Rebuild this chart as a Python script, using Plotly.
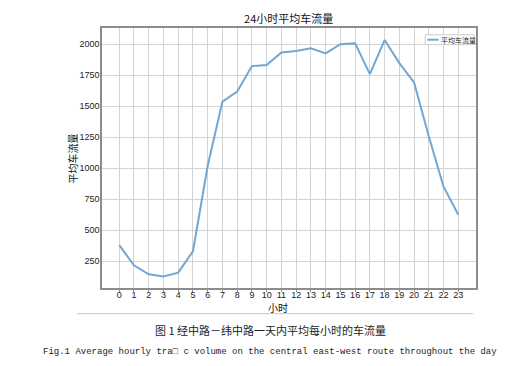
import plotly.graph_objects as go

hours = list(range(24))
hour_labels = [str(h) for h in hours]
avg_flow = [380, 218, 145, 127, 159, 331, 1020, 1537, 1618, 1823, 1831, 1933,
            1944, 1966, 1925, 2000, 2006, 1758, 2033, 1847, 1691, 1255, 851, 625]
y_ticks = [250, 500, 750, 1000, 1250, 1500, 1750, 2000]

title_text = "24小时平均车流量"
series_name = "平均车流量"
x_title = "小时"
y_title = "平均车流量"
caption_cn = "图 1 经中路－纬中路一天内平均每小时的车流量"
caption_en = "Fig.1 Average hourly tra\u25a1 c volume on the central east-west route throughout the day"

LINE_COLOR = "#72a7d3"
CJK = "Noto Sans CJK SC"
TICKFONT = dict(family="Liberation Sans, Arial", size=9, color="#222")

fig = go.Figure()
fig.add_trace(go.Scatter(x=hours, y=avg_flow, mode="lines", name=series_name,
                         line=dict(color=LINE_COLOR, width=2), showlegend=False))

fig.update_layout(
    width=528, height=366,
    margin=dict(l=102, r=52, t=28, b=78),
    paper_bgcolor="white", plot_bgcolor="white",
    title=dict(text=title_text, x=(101.7 + 475.7) / 2 / 528, xanchor="center",
               y=1 - 19 / 366, yanchor="middle",
               font=dict(family=CJK, size=11, color="#111")),
)
fig.update_xaxes(range=[-1.17, 24.2], tickmode="array", tickvals=hours, ticktext=hour_labels,
                 showgrid=True, gridcolor="#d4d4d4", gridwidth=1,
                 showline=True, linecolor="#8c8c8c", linewidth=1.5, mirror=True,
                 ticks="outside", ticklen=2, tickcolor="#8c8c8c",
                 ticklabelstandoff=-5,
                 tickfont=TICKFONT, zeroline=False)
fig.update_yaxes(range=[35, 2130], tickmode="array", tickvals=y_ticks,
                 showgrid=True, gridcolor="#d4d4d4", gridwidth=1,
                 showline=True, linecolor="#8c8c8c", linewidth=1.5, mirror=True,
                 ticks="", ticklabelstandoff=-1, tickfont=TICKFONT, zeroline=False)

annots = [
    dict(text=x_title, x=0.471, y=-0.075, xref="paper", yref="paper",
         showarrow=False, xanchor="center", yanchor="middle",
         font=dict(family=CJK, size=10, color="#111")),
    dict(text=y_title, x=-0.079, y=0.5, xref="paper", yref="paper", textangle=-90,
         showarrow=False, xanchor="center", yanchor="middle",
         font=dict(family=CJK, size=10, color="#111")),
    dict(text=caption_cn, x=0.45, y=-0.163, xref="paper", yref="paper",
         showarrow=False, xanchor="center", yanchor="middle",
         font=dict(family=CJK, size=11, color="#222")),
    dict(text=caption_en, x=0.45, y=-0.248, xref="paper", yref="paper",
         showarrow=False, xanchor="center", yanchor="middle",
         font=dict(family="Liberation Mono, DejaVu Sans Mono", size=9, color="#222")),
    dict(text=series_name, x=0.9, y=0.955, xref="paper", yref="paper",
         showarrow=False, xanchor="left", yanchor="middle",
         font=dict(family=CJK, size=7, color="#222")),
]
for a in annots:
    fig.add_annotation(**a)

shapes = [
    # legend box
    dict(type="rect", xref="paper", yref="paper", x0=0.864, x1=0.995, y0=0.936, y1=0.974,
         line=dict(color="#cccccc", width=1), fillcolor="white", layer="above"),
    dict(type="line", xref="paper", yref="paper", x0=0.870, x1=0.9, y0=0.955, y1=0.955,
         line=dict(color=LINE_COLOR, width=2), layer="above"),
    # divider under chart
    dict(type="line", xref="paper", yref="paper", x0=-0.066, x1=0.993, y0=-0.0987, y1=-0.0987,
         line=dict(color="#c8c8c8", width=1)),
]
for s in shapes:
    fig.add_shape(**s)

fig.write_html("out.html", config={"displayModeBar": False},
               post_script="document.body.style.margin='0';document.body.style.padding='0';")
